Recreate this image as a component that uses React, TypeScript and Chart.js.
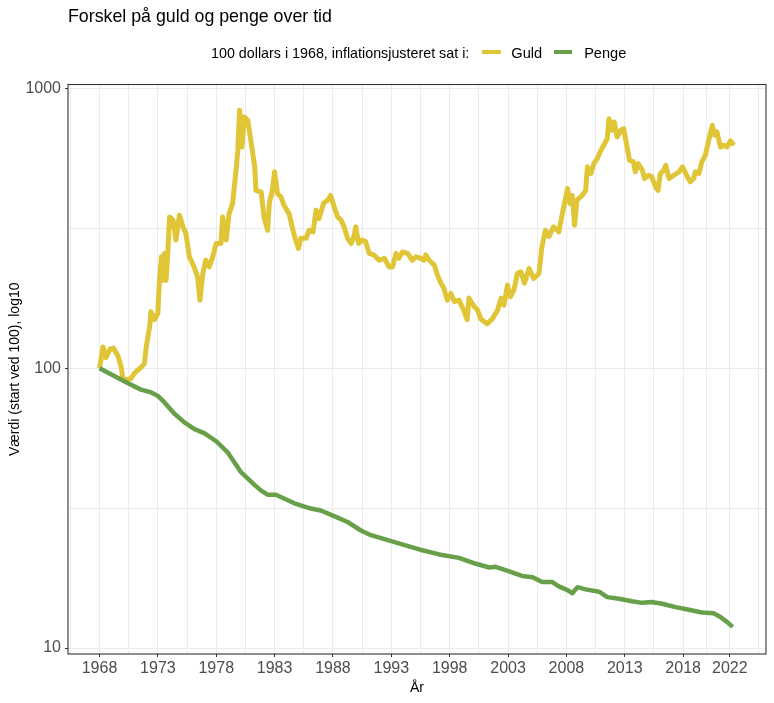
import { useEffect, useRef } from "react"
import { Chart, registerables } from "chart.js"

Chart.register(...registerables)

// Guld, 100 USD in 1968, inflation adjusted
const goldYears = [
  1968.0, 1968.3, 1968.55, 1968.9, 1969.2, 1969.6, 1969.85, 1970.0, 1970.4, 1970.7,
  1971.0, 1971.6, 1971.85, 1972.0, 1972.3, 1972.4, 1972.7, 1973.0, 1973.1, 1973.3,
  1973.4, 1973.55, 1973.7, 1973.85, 1974.0, 1974.3, 1974.55, 1974.85, 1975.15, 1975.4,
  1975.7, 1976.1, 1976.4, 1976.6, 1976.85, 1977.1, 1977.4, 1977.7, 1978.0, 1978.4,
  1978.55, 1978.85, 1979.1, 1979.4, 1979.7, 1979.85, 1980.0, 1980.2, 1980.4, 1980.7,
  1981.0, 1981.3, 1981.4, 1981.85, 1982.1, 1982.4, 1982.55, 1982.8, 1983.0, 1983.25,
  1983.55, 1983.8, 1984.25, 1984.5, 1984.8, 1985.05, 1985.25, 1985.7, 1985.95, 1986.3,
  1986.55, 1986.8, 1987.2, 1987.55, 1987.8, 1988.1, 1988.4, 1988.7, 1988.95, 1989.25,
  1989.55, 1989.8, 1989.95, 1990.2, 1990.5, 1990.8, 1991.1, 1991.5, 1991.95, 1992.4,
  1992.8, 1993.1, 1993.4, 1993.65, 1993.95, 1994.4, 1994.8, 1995.1, 1995.5, 1995.8,
  1995.95, 1996.25, 1996.7, 1996.95, 1997.25, 1997.5, 1997.8, 1998.1, 1998.4, 1998.8,
  1999.2, 1999.5, 1999.65, 2000.1, 2000.4, 2000.65, 2001.2, 2001.65, 2002.1, 2002.4,
  2002.65, 2002.95, 2003.2, 2003.5, 2003.8, 2004.1, 2004.4, 2004.8, 2005.2, 2005.65,
  2005.9, 2006.2, 2006.5, 2006.9, 2007.35, 2007.65, 2008.1, 2008.3, 2008.5, 2008.7,
  2008.9, 2009.35, 2009.65, 2009.8, 2010.1, 2010.35, 2010.65, 2010.95, 2011.2, 2011.5,
  2011.65, 2011.9, 2012.1, 2012.35, 2012.65, 2012.9, 2013.2, 2013.4, 2013.75, 2013.9,
  2014.15, 2014.5, 2014.7, 2015.05, 2015.3, 2015.65, 2015.85, 2016.05, 2016.35, 2016.5,
  2016.8, 2017.2, 2017.65, 2017.95, 2018.3, 2018.6, 2018.9, 2019.05, 2019.35, 2019.6,
  2019.9, 2020.2, 2020.5, 2020.7, 2020.9, 2021.2, 2021.5, 2021.75, 2022.05, 2022.35,
]
const goldValues = [
  100, 119, 109, 117, 118, 110, 101, 92, 90.5, 92,
  96, 101, 104, 119, 141, 159, 149, 157, 195, 250,
  206, 257, 206, 257, 347, 338, 287, 352, 320, 303,
  250, 230, 212, 175, 218, 243, 230, 250, 279, 279,
  347, 287, 356, 388, 510, 600, 835, 617, 790, 769,
  635, 524, 432, 426, 345, 311, 390, 430, 503, 420,
  409, 382, 356, 320, 287, 268, 291, 291, 311, 307,
  367, 342, 388, 398, 414, 377, 347, 338, 320, 291,
  279, 295, 320, 279, 287, 283, 257, 254, 243, 247,
  230, 230, 257, 247, 260, 257, 243, 250, 247, 243,
  254, 243, 233, 215, 201, 193, 175, 185, 173, 175,
  161, 149, 178, 166, 161, 150, 144, 150, 161, 178,
  168, 198, 180, 190, 218, 221, 201, 227, 209, 218,
  271, 311, 295, 320, 307, 356, 438, 388, 414, 324,
  398, 414, 432, 524, 496, 538, 561, 600, 626, 661,
  779, 708, 758, 670, 708, 718, 617, 553, 546, 503,
  538, 510, 476, 489, 483, 444, 432, 496, 510, 531,
  476, 489, 503, 524, 489, 463, 476, 503, 496, 546,
  576, 652, 738, 680, 698, 617, 626, 617, 649, 626,
]

// Penge (dollars), same start value
const pengeYears = [
  1968.0, 1969.3, 1970.4, 1971.55, 1972.4, 1973.0, 1973.55, 1974.4, 1975.3, 1976.1,
  1977.0, 1978.0, 1979.0, 1980.1, 1981.3, 1981.85, 1982.4, 1983.1, 1984.7, 1986.1,
  1986.95, 1988.1, 1989.25, 1990.4, 1991.25, 1992.7, 1994.8, 1995.4, 1997.1, 1998.8,
  2000.25, 2001.4, 2001.95, 2003.1, 2004.2, 2005.1, 2005.95, 2006.8, 2007.35, 2008.1,
  2008.5, 2008.95, 2009.65, 2010.8, 2011.5, 2012.5, 2013.6, 2014.5, 2015.3, 2016.2,
  2017.35, 2018.5, 2019.6, 2020.6, 2021.2, 2021.75, 2022.25,
]
const pengeValues = [
  100, 93.5, 88.5, 83.8, 82.0, 79.6, 75.6, 68.9, 63.9, 60.7,
  58.5, 54.8, 49.9, 42.6, 38.2, 36.5, 35.3, 35.3, 32.9, 31.5,
  31.0, 29.6, 28.2, 26.3, 25.3, 24.3, 22.9, 22.5, 21.6, 21.0,
  20.0, 19.4, 19.5, 18.8, 18.1, 17.9, 17.2, 17.2, 16.6, 16.1,
  15.7, 16.5, 16.2, 15.9, 15.2, 15.0, 14.7, 14.5, 14.6, 14.4,
  14.0, 13.7, 13.4, 13.3, 12.9, 12.4, 11.9,
]

const xMajorTicks = [1968, 1973, 1978, 1983, 1988, 1993, 1998, 2003, 2008, 2013, 2018, 2022]
const xMinorTicks = [1965.5, 1970.5, 1975.5, 1980.5, 1985.5, 1990.5, 1995.5, 2000.5, 2005.5, 2010.5, 2015.5, 2020, 2024.5]
const yMajorTicks = [10, 100, 1000]
const yMinorTicks = [31.62, 316.2]

const GOLD = "#E0C537"
const GREEN = "#67A048"
const FONT = "'Liberation Sans', Arial, Helvetica, sans-serif"

const panelBorder = {
  id: "panelBorder",
  afterDatasetsDraw(chart: Chart) {
    const { ctx, chartArea: a } = chart
    ctx.save()
    ctx.strokeStyle = "#333333"
    ctx.lineWidth = 1.1
    ctx.strokeRect(a.left, a.top, a.right - a.left, a.bottom - a.top)
    ctx.restore()
  },
}

function GoldChart() {
  const chartRef = useRef<HTMLCanvasElement>(null)
  const chartInstance = useRef<Chart | null>(null)

  useEffect(() => {
    if (!chartRef.current) return
    if (chartInstance.current) chartInstance.current.destroy()

    chartInstance.current = new Chart(chartRef.current, {
      type: "line",
      data: {
        datasets: [
          {
            label: "Guld",
            data: goldYears.map((x, i) => ({ x, y: goldValues[i] })),
            borderColor: GOLD,
            borderWidth: 5,
            borderJoinStyle: "round",
            pointRadius: 0,
            tension: 0,
            fill: false,
            order: 1,
          },
          {
            label: "Penge",
            data: pengeYears.map((x, i) => ({ x, y: pengeValues[i] })),
            borderColor: GREEN,
            borderWidth: 4.5,
            borderJoinStyle: "round",
            pointRadius: 0,
            tension: 0,
            fill: false,
            order: 0,
          },
        ],
      },
      options: {
        responsive: false,
        animation: false,
        events: [],
        layout: { padding: { top: 84.5, right: 8, left: 0, bottom: 0 } },
        plugins: {
          legend: { display: false },
          tooltip: { enabled: false },
          title: { display: false },
        },
        scales: {
          x: {
            type: "linear",
            min: 1965.3,
            max: 2025.1,
            afterBuildTicks: (s: any) => {
              s.ticks = [...xMajorTicks, ...xMinorTicks].sort((a, b) => a - b).map((v) => ({ value: v }))
            },
            afterFit: (s: any) => {
              s.height = 49
            },
            border: { display: false },
            grid: {
              color: "#EBEBEB",
              lineWidth: 1,
              drawTicks: true,
              tickLength: 3,
              tickWidth: 1,
              tickColor: (c: any) => (xMajorTicks.includes(c.tick?.value) ? "#333333" : "rgba(0,0,0,0)"),
            },
            ticks: {
              autoSkip: false,
              maxRotation: 0,
              padding: 2,
              color: "#4D4D4D",
              font: { family: FONT, size: 16 },
              callback: (v: any) => (xMajorTicks.includes(v) ? String(v) : ""),
            },
            title: {
              display: true,
              text: "År",
              color: "#000000",
              font: { family: FONT, size: 14 },
              padding: { top: 0, bottom: 6.6 },
            },
          },
          y: {
            type: "logarithmic",
            min: 9.52,
            max: 1031.7,
            afterBuildTicks: (s: any) => {
              s.ticks = [...yMajorTicks, ...yMinorTicks].sort((a, b) => a - b).map((v) => ({ value: v }))
            },
            afterFit: (s: any) => {
              s.width = 68
            },
            border: { display: false },
            grid: {
              color: "#EBEBEB",
              lineWidth: 1,
              drawTicks: true,
              tickLength: 3,
              tickWidth: 1,
              tickColor: (c: any) => (yMajorTicks.includes(c.tick?.value) ? "#333333" : "rgba(0,0,0,0)"),
            },
            ticks: {
              autoSkip: false,
              padding: 4,
              color: "#4D4D4D",
              font: { family: FONT, size: 16 },
              callback: (v: any) => (yMajorTicks.includes(v) ? String(v) : ""),
            },
            title: {
              display: true,
              text: "Værdi (start ved 100), log10",
              color: "#000000",
              font: { family: FONT, size: 14 },
              padding: { top: 7, bottom: 0 },
            },
          },
        },
      },
      plugins: [panelBorder],
    })

    return () => {
      if (chartInstance.current) {
        chartInstance.current.destroy()
        chartInstance.current = null
      }
    }
  }, [])

  return <canvas ref={chartRef} width={774} height={703} style={{ display: "block" }} />
}

export default function App() {
  const keyStyle = (color: string, width: number, ml: number) => ({
    width,
    height: 4,
    background: color,
    marginLeft: ml,
    position: "relative" as const,
    top: -1,
  })

  return (
    <div
      style={{
        position: "absolute",
        left: 0,
        top: 0,
        width: 774,
        height: 703,
        background: "#ffffff",
        fontFamily: FONT,
        color: "#000000",
      }}
    >
      <GoldChart />
      <div style={{ position: "absolute", left: 68, top: 6, fontSize: 17.8, lineHeight: "20px", whiteSpace: "nowrap" }}>
        Forskel på guld og penge over tid
      </div>
      <div
        style={{
          position: "absolute",
          left: 211,
          top: 43,
          height: 20,
          display: "flex",
          alignItems: "center",
          whiteSpace: "nowrap",
          lineHeight: "20px",
        }}
      >
        <span style={{ fontSize: 14.3 }}>100 dollars i 1968, inflationsjusteret sat i:</span>
        <div style={keyStyle(GOLD, 19, 13)} />
        <span style={{ fontSize: 14.6, marginLeft: 10 }}>Guld</span>
        <div style={keyStyle(GREEN, 18, 12)} />
        <span style={{ fontSize: 14.6, marginLeft: 12 }}>Penge</span>
      </div>
    </div>
  )
}
